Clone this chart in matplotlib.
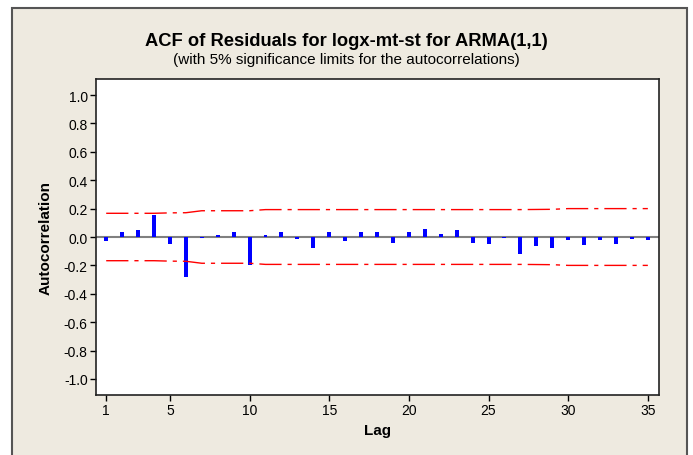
import matplotlib
matplotlib.use("Agg")
import matplotlib.pyplot as plt
from matplotlib.patches import Rectangle

plt.rcParams['font.family'] = ['Liberation Sans', 'DejaVu Sans']

# ACF of residuals
lags = list(range(1, 36))
acf = [-0.026, 0.033, 0.049, 0.157, -0.049, -0.284, -0.006, 0.016, 0.033, -0.195,
       0.016, 0.033, -0.014, -0.077, 0.033, -0.026, 0.033, 0.033, -0.040, 0.038,
       0.054, 0.020, 0.047, -0.040, -0.047, -0.010, -0.122, -0.063, -0.080, -0.023,
       -0.054, -0.023, -0.047, -0.014, -0.023]
# 5% significance limits (upper; lower is the mirror)
limit = [0.167, 0.167, 0.167, 0.167, 0.170, 0.171, 0.185, 0.185, 0.185, 0.185,
         0.193, 0.193, 0.193, 0.193, 0.193, 0.193, 0.193, 0.193, 0.193, 0.193,
         0.193, 0.193, 0.193, 0.193, 0.193, 0.193, 0.193, 0.194, 0.195, 0.200,
         0.200, 0.200, 0.200, 0.200, 0.200]
xticks = [1, 5, 10, 15, 20, 25, 30, 35]
yticks = [1.0, 0.8, 0.6, 0.4, 0.2, 0.0, -0.2, -0.4, -0.6, -0.8, -1.0]

W, H = 693, 456
fig = plt.figure(figsize=(W / 100, H / 100), dpi=100, facecolor='white')

# cream panel with border, kept behind the axes
fig.patches.append(Rectangle((12 / W, -0.05), (687 - 12) / W, 1.05 - 9 / H,
                             transform=fig.transFigure, facecolor='#EEEAE0',
                             edgecolor='#555555', linewidth=1.5, zorder=-10))

ax = fig.add_axes([96 / W, 1 - 396 / H, (659 - 96) / W, (396 - 80) / H])
ax.set_facecolor('white')

ax.axhline(0, color='#808080', linewidth=1.5, zorder=1)
ax.bar(lags, acf, width=0.25, color='#0000FF', zorder=2)

dash = (0, (16, 4.3, 3, 4.3))
ax.plot(lags, limit, color='#FF0000', linewidth=1.0, linestyle=dash, zorder=3)
ax.plot(lags, [-v for v in limit], color='#FF0000', linewidth=1.0, linestyle=dash, zorder=3)

ax.set_xlim(0.36, 35.7)
ax.set_ylim(-1.113, 1.113)
ax.set_xticks(xticks)
ax.set_yticks(yticks)
ax.set_yticklabels([f"{v:.1f}" for v in yticks])
ax.tick_params(axis='both', direction='out', length=4, width=1, labelsize=10, pad=2)

for s in ax.spines.values():
    s.set_color('#222222')
    s.set_linewidth(1.2)

ax.set_xlabel('Lag', fontsize=11, fontweight='bold', labelpad=4)
ax.set_ylabel('Autocorrelation', fontsize=11, fontweight='bold', labelpad=8)

fig.text(0.5, 1 - 42 / H, 'ACF of Residuals for logx-mt-st for ARMA(1,1)',
         ha='center', va='center', fontsize=13.2, fontweight='bold')
fig.text(0.5, 1 - 60 / H, '(with 5% significance limits for the autocorrelations)',
         ha='center', va='center', fontsize=11)

fig.savefig('out.png', dpi=100, facecolor=fig.get_facecolor())
